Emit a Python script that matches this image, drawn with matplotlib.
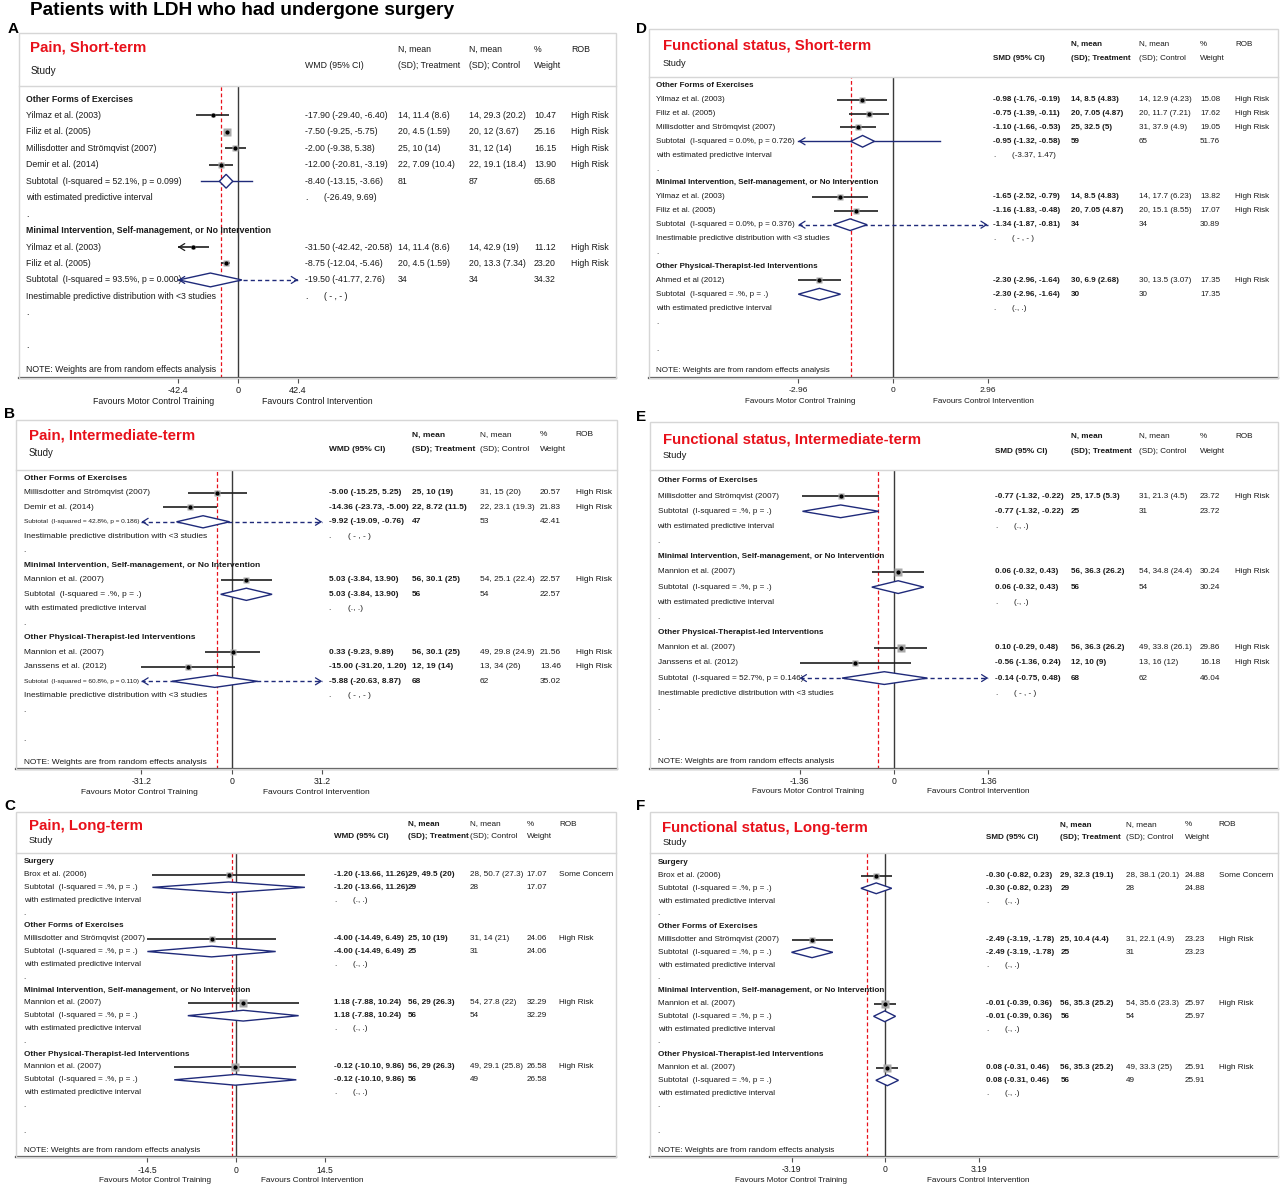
import matplotlib
matplotlib.use('Agg')
import matplotlib.pyplot as plt
import matplotlib.transforms as mtransforms
from matplotlib.patches import Rectangle
from matplotlib.lines import Line2D

plt.rcParams['font.family'] = ['Liberation Sans', 'DejaVu Sans']

W, H = 1280, 1184

# ---------------- data ----------------
# row kinds: g = group heading, s = study, t = subtotal (T = subtotal in small print),
# p = predictive interval row, i = inestimable row, d = "." spacer, b = blank
# study:    (kind, label, est, lo, hi, treatment, control, weight, rob)
# subtotal: (kind, label, est, lo, hi, n_treat, n_ctrl, weight, pi) pi=(lo, hi) / 'inest' / None

main_title = 'Patients with LDH who had undergone surgery'
favours = ['Favours Motor Control Training', 'Favours Control Intervention']

a_title = 'Pain, Short-term'
a_measure = 'WMD (95% CI)'
a_tick = 42.4
a_overall = -11.7
a_rows = [
    ('g', 'Other Forms of Exercises'),
    ('s', 'Yilmaz et al. (2003)', -17.90, -29.40, -6.40, '14, 11.4 (8.6)', '14, 29.3 (20.2)', 10.47, 'High Risk'),
    ('s', 'Filiz et al. (2005)', -7.50, -9.25, -5.75, '20, 4.5 (1.59)', '20, 12 (3.67)', 25.16, 'High Risk'),
    ('s', 'Millisdotter and Strömqvist (2007)', -2.00, -9.38, 5.38, '25, 10 (14)', '31, 12 (14)', 16.15, 'High Risk'),
    ('s', 'Demir et al. (2014)', -12.00, -20.81, -3.19, '22, 7.09 (10.4)', '22, 19.1 (18.4)', 13.90, 'High Risk'),
    ('t', 'Subtotal  (I-squared = 52.1%, p = 0.099)', -8.40, -13.15, -3.66, '81', '87', 65.68, (-26.49, 9.69)),
    ('p', 'with estimated predictive interval'),
    ('d',),
    ('g', 'Minimal Intervention, Self-management, or No Intervention'),
    ('s', 'Yilmaz et al. (2003)', -31.50, -42.42, -20.58, '14, 11.4 (8.6)', '14, 42.9 (19)', 11.12, 'High Risk'),
    ('s', 'Filiz et al. (2005)', -8.75, -12.04, -5.46, '20, 4.5 (1.59)', '20, 13.3 (7.34)', 23.20, 'High Risk'),
    ('t', 'Subtotal  (I-squared = 93.5%, p = 0.000)', -19.50, -41.77, 2.76, '34', '34', 34.32, 'inest'),
    ('i', 'Inestimable predictive distribution with <3 studies'),
    ('d',), ('b',), ('d',),
]

b_title = 'Pain, Intermediate-term'
b_measure = 'WMD (95% CI)'
b_tick = 31.2
b_overall = -5.0
b_rows = [
    ('g', 'Other Forms of Exercises'),
    ('s', 'Millisdotter and Strömqvist (2007)', -5.00, -15.25, 5.25, '25, 10 (19)', '31, 15 (20)', 20.57, 'High Risk'),
    ('s', 'Demir et al. (2014)', -14.36, -23.73, -5.00, '22, 8.72 (11.5)', '22, 23.1 (19.3)', 21.83, 'High Risk'),
    ('T', 'Subtotal  (I-squared = 42.8%, p = 0.186)', -9.92, -19.09, -0.76, '47', '53', 42.41, 'inest'),
    ('i', 'Inestimable predictive distribution with <3 studies'),
    ('d',),
    ('g', 'Minimal Intervention, Self-management, or No Intervention'),
    ('s', 'Mannion et al. (2007)', 5.03, -3.84, 13.90, '56, 30.1 (25)', '54, 25.1 (22.4)', 22.57, 'High Risk'),
    ('t', 'Subtotal  (I-squared = .%, p = .)', 5.03, -3.84, 13.90, '56', '54', 22.57, None),
    ('p', 'with estimated predictive interval'),
    ('d',),
    ('g', 'Other Physical-Therapist-led Interventions'),
    ('s', 'Mannion et al. (2007)', 0.33, -9.23, 9.89, '56, 30.1 (25)', '49, 29.8 (24.9)', 21.56, 'High Risk'),
    ('s', 'Janssens et al. (2012)', -15.00, -31.20, 1.20, '12, 19 (14)', '13, 34 (26)', 13.46, 'High Risk'),
    ('T', 'Subtotal  (I-squared = 60.8%, p = 0.110)', -5.88, -20.63, 8.87, '68', '62', 35.02, 'inest'),
    ('i', 'Inestimable predictive distribution with <3 studies'),
    ('d',), ('b',), ('d',),
]

c_title = 'Pain, Long-term'
c_measure = 'WMD (95% CI)'
c_tick = 14.5
c_overall = -0.7
c_rows = [
    ('g', 'Surgery'),
    ('s', 'Brox et al. (2006)', -1.20, -13.66, 11.26, '29, 49.5 (20)', '28, 50.7 (27.3)', 17.07, 'Some Concern'),
    ('t', 'Subtotal  (I-squared = .%, p = .)', -1.20, -13.66, 11.26, '29', '28', 17.07, None),
    ('p', 'with estimated predictive interval'),
    ('d',),
    ('g', 'Other Forms of Exercises'),
    ('s', 'Millisdotter and Strömqvist (2007)', -4.00, -14.49, 6.49, '25, 10 (19)', '31, 14 (21)', 24.06, 'High Risk'),
    ('t', 'Subtotal  (I-squared = .%, p = .)', -4.00, -14.49, 6.49, '25', '31', 24.06, None),
    ('p', 'with estimated predictive interval'),
    ('d',),
    ('g', 'Minimal Intervention, Self-management, or No Intervention'),
    ('s', 'Mannion et al. (2007)', 1.18, -7.88, 10.24, '56, 29 (26.3)', '54, 27.8 (22)', 32.29, 'High Risk'),
    ('t', 'Subtotal  (I-squared = .%, p = .)', 1.18, -7.88, 10.24, '56', '54', 32.29, None),
    ('p', 'with estimated predictive interval'),
    ('d',),
    ('g', 'Other Physical-Therapist-led Interventions'),
    ('s', 'Mannion et al. (2007)', -0.12, -10.10, 9.86, '56, 29 (26.3)', '49, 29.1 (25.8)', 26.58, 'High Risk'),
    ('t', 'Subtotal  (I-squared = .%, p = .)', -0.12, -10.10, 9.86, '56', '49', 26.58, None),
    ('p', 'with estimated predictive interval'),
    ('d',), ('b',), ('d',),
]

d_title = 'Functional status, Short-term'
d_measure = 'SMD (95% CI)'
d_tick = 2.96
d_overall = -1.32
d_rows = [
    ('g', 'Other Forms of Exercises'),
    ('s', 'Yilmaz et al. (2003)', -0.98, -1.76, -0.19, '14, 8.5 (4.83)', '14, 12.9 (4.23)', 15.08, 'High Risk'),
    ('s', 'Filiz et al. (2005)', -0.75, -1.39, -0.11, '20, 7.05 (4.87)', '20, 11.7 (7.21)', 17.62, 'High Risk'),
    ('s', 'Millisdotter and Strömqvist (2007)', -1.10, -1.66, -0.53, '25, 32.5 (5)', '31, 37.9 (4.9)', 19.05, 'High Risk'),
    ('t', 'Subtotal  (I-squared = 0.0%, p = 0.726)', -0.95, -1.32, -0.58, '59', '65', 51.76, (-3.37, 1.47)),
    ('p', 'with estimated predictive interval'),
    ('d',),
    ('g', 'Minimal Intervention, Self-management, or No Intervention'),
    ('s', 'Yilmaz et al. (2003)', -1.65, -2.52, -0.79, '14, 8.5 (4.83)', '14, 17.7 (6.23)', 13.82, 'High Risk'),
    ('s', 'Filiz et al. (2005)', -1.16, -1.83, -0.48, '20, 7.05 (4.87)', '20, 15.1 (8.55)', 17.07, 'High Risk'),
    ('t', 'Subtotal  (I-squared = 0.0%, p = 0.376)', -1.34, -1.87, -0.81, '34', '34', 30.89, 'inest'),
    ('i', 'Inestimable predictive distribution with <3 studies'),
    ('d',),
    ('g', 'Other Physical-Therapist-led Interventions'),
    ('s', 'Ahmed et al (2012)', -2.30, -2.96, -1.64, '30, 6.9 (2.68)', '30, 13.5 (3.07)', 17.35, 'High Risk'),
    ('t', 'Subtotal  (I-squared = .%, p = .)', -2.30, -2.96, -1.64, '30', '30', 17.35, None),
    ('p', 'with estimated predictive interval'),
    ('d',), ('b',), ('d',),
]

e_title = 'Functional status, Intermediate-term'
e_measure = 'SMD (95% CI)'
e_tick = 1.36
e_overall = -0.23
e_rows = [
    ('g', 'Other Forms of Exercises'),
    ('s', 'Millisdotter and Strömqvist (2007)', -0.77, -1.32, -0.22, '25, 17.5 (5.3)', '31, 21.3 (4.5)', 23.72, 'High Risk'),
    ('t', 'Subtotal  (I-squared = .%, p = .)', -0.77, -1.32, -0.22, '25', '31', 23.72, None),
    ('p', 'with estimated predictive interval'),
    ('d',),
    ('g', 'Minimal Intervention, Self-management, or No Intervention'),
    ('s', 'Mannion et al. (2007)', 0.06, -0.32, 0.43, '56, 36.3 (26.2)', '54, 34.8 (24.4)', 30.24, 'High Risk'),
    ('t', 'Subtotal  (I-squared = .%, p = .)', 0.06, -0.32, 0.43, '56', '54', 30.24, None),
    ('p', 'with estimated predictive interval'),
    ('d',),
    ('g', 'Other Physical-Therapist-led Interventions'),
    ('s', 'Mannion et al. (2007)', 0.10, -0.29, 0.48, '56, 36.3 (26.2)', '49, 33.8 (26.1)', 29.86, 'High Risk'),
    ('s', 'Janssens et al. (2012)', -0.56, -1.36, 0.24, '12, 10 (9)', '13, 16 (12)', 16.18, 'High Risk'),
    ('t', 'Subtotal  (I-squared = 52.7%, p = 0.146)', -0.14, -0.75, 0.48, '68', '62', 46.04, 'inest'),
    ('i', 'Inestimable predictive distribution with <3 studies'),
    ('d',), ('b',), ('d',),
]

f_title = 'Functional status, Long-term'
f_measure = 'SMD (95% CI)'
f_tick = 3.19
f_overall = -0.60
f_rows = [
    ('g', 'Surgery'),
    ('s', 'Brox et al. (2006)', -0.30, -0.82, 0.23, '29, 32.3 (19.1)', '28, 38.1 (20.1)', 24.88, 'Some Concern'),
    ('t', 'Subtotal  (I-squared = .%, p = .)', -0.30, -0.82, 0.23, '29', '28', 24.88, None),
    ('p', 'with estimated predictive interval'),
    ('d',),
    ('g', 'Other Forms of Exercises'),
    ('s', 'Millisdotter and Strömqvist (2007)', -2.49, -3.19, -1.78, '25, 10.4 (4.4)', '31, 22.1 (4.9)', 23.23, 'High Risk'),
    ('t', 'Subtotal  (I-squared = .%, p = .)', -2.49, -3.19, -1.78, '25', '31', 23.23, None),
    ('p', 'with estimated predictive interval'),
    ('d',),
    ('g', 'Minimal Intervention, Self-management, or No Intervention'),
    ('s', 'Mannion et al. (2007)', -0.01, -0.39, 0.36, '56, 35.3 (25.2)', '54, 35.6 (23.3)', 25.97, 'High Risk'),
    ('t', 'Subtotal  (I-squared = .%, p = .)', -0.01, -0.39, 0.36, '56', '54', 25.97, None),
    ('p', 'with estimated predictive interval'),
    ('d',),
    ('g', 'Other Physical-Therapist-led Interventions'),
    ('s', 'Mannion et al. (2007)', 0.08, -0.31, 0.46, '56, 35.3 (25.2)', '49, 33.3 (25)', 25.91, 'High Risk'),
    ('t', 'Subtotal  (I-squared = .%, p = .)', 0.08, -0.31, 0.46, '56', '49', 25.91, None),
    ('p', 'with estimated predictive interval'),
    ('d',), ('b',), ('d',),
]

# ---------------- layout (pixels from top-left) ----------------
layouts = {
    'A': dict(box=(19, 33, 616), hdr=86, y0=99, sp=16.45, note=16.45, axis=378, zero=238, half=60,
              lx=26.5, title=(30, 48), study=(30.6, 71), h1=49, h2=66,
              cols=(305, 398, 469, 534, 571), ticky=389, favy=401, fav=(154, 317),
              bold=False, fs=6.3, letter=(8, 33)),
    'B': dict(box=(16, 420, 617), hdr=470, y0=478.3, sp=14.5, note=19.6, axis=769, zero=231.8, half=90.4,
              lx=23.7, title=(29, 436), study=(29, 452.7), h1=435, h2=449,
              cols=(328.6, 412, 480, 540, 575.5), ticky=780, favy=792.3, fav=(139, 316),
              bold=True, fs=6.0, letter=(4, 418)),
    'C': dict(box=(16, 811.7, 615.5), hdr=852.7, y0=861.7, sp=12.83, note=22.5, axis=1157.3, zero=236, half=88.7,
              lx=23.7, title=(28.6, 826), study=(28.6, 840.7), h1=824, h2=836.7,
              cols=(334, 408, 470, 526.5, 559), ticky=1168.3, favy=1180, fav=(154.7, 311.8),
              bold=True, fs=5.9, letter=(4, 810)),
    'D': dict(box=(649, 29.3, 1278), hdr=77, y0=85.7, sp=13.9, note=20.5, axis=378.3, zero=893, half=94.7,
              lx=656, title=(663, 46), study=(663, 63), h1=44, h2=58,
              cols=(993, 1071, 1139, 1200, 1235), ticky=389, favy=401.7, fav=(800, 983),
              bold=True, fs=5.8, letter=(636, 33)),
    'E': dict(box=(650, 421.7, 1278), hdr=470, y0=481, sp=15.16, note=18.5, axis=769, zero=894, half=94.3,
              lx=657.5, title=(663, 439.3), study=(663, 455), h1=436, h2=451.7,
              cols=(995, 1071, 1139, 1200, 1235), ticky=779.3, favy=791.7, fav=(808, 978),
              bold=True, fs=5.9, letter=(636, 421)),
    'F': dict(box=(650, 811.7, 1278), hdr=853.3, y0=862.7, sp=12.8, note=22.5, axis=1156.7, zero=885, half=93.5,
              lx=657.6, title=(662.4, 828.3), study=(662.4, 842.3), h1=825, h2=837.7,
              cols=(986, 1060.4, 1125.7, 1185, 1218.8), ticky=1168.3, favy=1180, fav=(791.4, 977.8),
              bold=True, fs=5.9, letter=(636, 810)),
}

NAVY = '#1f2a7a'
RED = '#e8101a'
INK = '#1a1a1a'

fig = plt.figure(figsize=(W / 100, H / 100), dpi=100)


def fx(px):
    return px / W


def fy(py):
    return 1 - py / H


def head(ax, x, y, d, color, L):
    # small open arrow head pointing left (d=-1) or right (d=1)
    ax.annotate('', xy=(x, y), xytext=(x - d * L * 0.03, y),
                arrowprops=dict(arrowstyle='->,head_length=0.4,head_width=0.25', color=color,
                                lw=0.9, shrinkA=0, shrinkB=0), zorder=4)


def draw_panel(letter, title, measure, L, overall, rows):
    lay = layouts[letter]
    bl, bt, br = lay['box']
    fs = lay['fs']
    ppu = lay['half'] / L
    bw = 'bold' if lay['bold'] else 'normal'

    ax = fig.add_axes([fx(bl), fy(lay['axis']), (br - bl) / W, (lay['axis'] - lay['hdr']) / H])
    ax.set_xlim((bl - lay['zero']) / ppu, (br - lay['zero']) / ppu)
    ax.set_ylim((lay['axis'] - lay['y0']) / lay['sp'], (lay['hdr'] - lay['y0']) / lay['sp'])
    ax.set_facecolor('none')
    for s in ['top', 'left', 'right']:
        ax.spines[s].set_visible(False)
    ax.spines['bottom'].set_color('#505050')
    ax.spines['bottom'].set_linewidth(1.6)
    ax.set_yticks([])
    ax.set_xticks([-L, 0, L])
    ax.set_xticklabels([f'{-L:g}', '0', f'{L:g}'])
    ax.tick_params(axis='x', length=3.5, width=0.8, color='#505050', pad=2.5, labelsize=fs + 0.3,
                   labelcolor=INK)

    ax.axvline(0, color='#3a3a3a', lw=1.0, zorder=1)
    ax.axvline(overall, color=RED, lw=0.9, ls=(0, (3, 2)), zorder=1)

    # frame
    fig.add_artist(Rectangle((fx(bl), fy(lay['axis'])), (br - bl) / W, (lay['axis'] - bt) / H,
                             transform=fig.transFigure, fill=False, ec='#d6d6d6', lw=1.0))
    fig.add_artist(Line2D([fx(bl), fx(br)], [fy(lay['hdr'])] * 2, transform=fig.transFigure,
                          color='#d6d6d6', lw=1.0))

    # headings
    fig.text(fx(lay['letter'][0]), fy(lay['letter'][1]), letter, fontsize=11, weight='bold',
             va='baseline', color='black')
    fig.text(fx(lay['title'][0]), fy(lay['title'][1]), title, fontsize=10.8, weight='bold',
             color=RED, va='center')
    fig.text(fx(lay['study'][0]), fy(lay['study'][1]), 'Study', fontsize=fs + 0.9, va='center', color=INK)
    cx, tx, kx, wx, rx = lay['cols']
    fig.text(fx(cx), fy(lay['h2']), measure, fontsize=fs, weight=bw, va='center', color=INK)
    fig.text(fx(tx), fy(lay['h1']), 'N, mean', fontsize=fs, weight=bw, va='center', color=INK)
    fig.text(fx(tx), fy(lay['h2']), '(SD); Treatment', fontsize=fs, weight=bw, va='center', color=INK)
    fig.text(fx(kx), fy(lay['h1']), 'N, mean', fontsize=fs, va='center', color=INK)
    fig.text(fx(kx), fy(lay['h2']), '(SD); Control', fontsize=fs, va='center', color=INK)
    fig.text(fx(wx), fy(lay['h1']), '%', fontsize=fs, va='center', color=INK)
    fig.text(fx(wx), fy(lay['h2']), 'Weight', fontsize=fs, va='center', color=INK)
    fig.text(fx(rx), fy(lay['h1']), 'ROB', fontsize=fs, va='center', color=INK)

    fig.text(fx(lay['fav'][0]), fy(lay['favy']), favours[0], fontsize=fs, ha='center', va='center', color=INK)
    fig.text(fx(lay['fav'][1]), fy(lay['favy']), favours[1], fontsize=fs, ha='center', va='center', color=INK)

    tr = mtransforms.blended_transform_factory(fig.transFigure, ax.transData)

    def put(x, y, s, **kw):
        ax.text(fx(x), y, s, transform=tr, fontsize=kw.pop('size', fs), va='center', color=INK, **kw)

    last_pi = None
    for i, r in enumerate(rows):
        kind = r[0]
        if kind == 'g':
            put(lay['lx'], i, r[1], weight='bold')
        elif kind == 's':
            _, lab, est, lo, hi, tr_s, ct_s, w, rob = r
            put(lay['lx'], i, lab)
            a, b = max(lo, -L), min(hi, L)
            ax.plot([a, b], [i, i], color='#1e1e1e', lw=1.2, zorder=3, solid_capstyle='butt')
            if lo < -L:
                head(ax, -L, i, -1, '#1e1e1e', L)
            if hi > L:
                head(ax, L, i, 1, '#1e1e1e', L)
            ax.plot(est, i, marker='s', ms=1.4 * w ** 0.5 * 0.72, color='#a9a9a9', mec='none', zorder=3.5)
            ax.plot(est, i, marker='o', ms=2.0, color='black', zorder=4)
            put(cx, i, f'{est:.2f} ({lo:.2f}, {hi:.2f})', weight=bw)
            put(tx, i, tr_s, weight=bw)
            put(kx, i, ct_s)
            put(wx, i, f'{w:.2f}')
            put(rx, i, rob)
        elif kind in ('t', 'T'):
            _, lab, est, lo, hi, nt, nc, w, pi = r
            last_pi = pi
            put(lay['lx'], i, lab, size=fs if kind == 't' else fs * 0.78)
            h = 0.42
            ax.fill([lo, est, hi, est], [i, i - h, i, i + h], facecolor='white', edgecolor=NAVY,
                    lw=1.0, zorder=3)
            if pi == 'inest':
                ax.plot([-L, L], [i, i], color=NAVY, lw=1.0, ls=(0, (3, 2.2)), zorder=2)
                head(ax, -L, i, -1, NAVY, L)
                head(ax, L, i, 1, NAVY, L)
            elif pi is not None:
                a, b = max(pi[0], -L), min(pi[1], L)
                ax.plot([a, b], [i, i], color=NAVY, lw=1.0, zorder=2)
                if pi[0] < -L:
                    head(ax, -L, i, -1, NAVY, L)
                if pi[1] > L:
                    head(ax, L, i, 1, NAVY, L)
            put(cx, i, f'{est:.2f} ({lo:.2f}, {hi:.2f})', weight=bw)
            put(tx, i, nt, weight=bw)
            put(kx, i, nc)
            put(wx, i, f'{w:.2f}')
        elif kind == 'p':
            put(lay['lx'], i, r[1])
            put(cx, i, '.')
            if isinstance(last_pi, tuple):
                put(cx + 19, i, f'({last_pi[0]:.2f}, {last_pi[1]:.2f})')
            else:
                put(cx + 19, i, '(., .)')
        elif kind == 'i':
            put(lay['lx'], i, r[1])
            put(cx, i, '.')
            put(cx + 19, i, '( - , - )')
        elif kind == 'd':
            put(lay['lx'], i, '.')
    put(lay['lx'], lay['note'], 'NOTE: Weights are from random effects analysis')


fig.text(fx(30), fy(15), main_title, fontsize=13.8, weight='bold', va='baseline', color='black')

draw_panel('A', a_title, a_measure, a_tick, a_overall, a_rows)
draw_panel('B', b_title, b_measure, b_tick, b_overall, b_rows)
draw_panel('C', c_title, c_measure, c_tick, c_overall, c_rows)
draw_panel('D', d_title, d_measure, d_tick, d_overall, d_rows)
draw_panel('E', e_title, e_measure, e_tick, e_overall, e_rows)
draw_panel('F', f_title, f_measure, f_tick, f_overall, f_rows)

fig.savefig('out.png', dpi=100)
